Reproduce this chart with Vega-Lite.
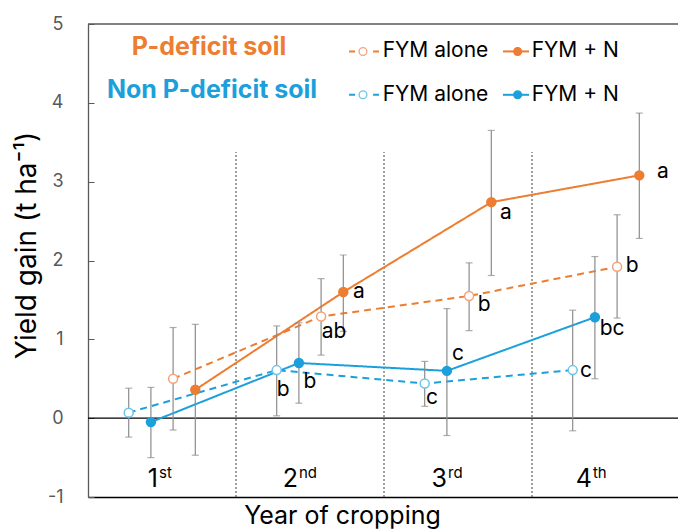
{
  "$schema": "https://vega.github.io/schema/vega-lite/v6.json",
  "width": 592,
  "height": 473,
  "autosize": {"type": "none"},
  "padding": {"left": 88, "top": 24, "right": 0, "bottom": 32},
  "config": {"view": {"stroke": null}, "font": "Inter", "text": {"font": "Inter"}},
  "datasets": {
    "pts": [
      {"series": "P_alone", "x": 1.075, "y": 0.50, "lo": -0.15, "hi": 1.15},
      {"series": "P_alone", "x": 2.075, "y": 1.29, "lo": 0.80, "hi": 1.77},
      {"series": "P_alone", "x": 3.075, "y": 1.55, "lo": 1.11, "hi": 1.97},
      {"series": "P_alone", "x": 4.075, "y": 1.92, "lo": 1.27, "hi": 2.58},
      {"series": "P_N", "x": 1.225, "y": 0.36, "lo": -0.47, "hi": 1.19},
      {"series": "P_N", "x": 2.225, "y": 1.60, "lo": 1.10, "hi": 2.07},
      {"series": "P_N", "x": 3.225, "y": 2.74, "lo": 1.81, "hi": 3.65},
      {"series": "P_N", "x": 4.225, "y": 3.08, "lo": 2.28, "hi": 3.87},
      {"series": "NP_alone", "x": 0.775, "y": 0.07, "lo": -0.24, "hi": 0.38},
      {"series": "NP_alone", "x": 1.775, "y": 0.61, "lo": 0.03, "hi": 1.17},
      {"series": "NP_alone", "x": 2.775, "y": 0.44, "lo": 0.15, "hi": 0.72},
      {"series": "NP_alone", "x": 3.775, "y": 0.61, "lo": -0.16, "hi": 1.37},
      {"series": "NP_N", "x": 0.925, "y": -0.05, "lo": -0.50, "hi": 0.39},
      {"series": "NP_N", "x": 1.925, "y": 0.70, "lo": 0.19, "hi": 1.21},
      {"series": "NP_N", "x": 2.925, "y": 0.60, "lo": -0.22, "hi": 1.39},
      {"series": "NP_N", "x": 3.925, "y": 1.28, "lo": 0.50, "hi": 2.05}
    ],
    "letters": [
      {"x": 2.162, "y": 1.09, "t": "ab"},
      {"x": 2.331, "y": 1.60, "t": "a"},
      {"x": 3.324, "y": 2.60, "t": "a"},
      {"x": 4.385, "y": 3.12, "t": "a"},
      {"x": 3.176, "y": 1.43, "t": "b"},
      {"x": 4.176, "y": 1.93, "t": "b"},
      {"x": 1.818, "y": 0.355, "t": "b"},
      {"x": 2.0, "y": 0.457, "t": "b"},
      {"x": 3.0, "y": 0.812, "t": "c"},
      {"x": 2.824, "y": 0.254, "t": "c"},
      {"x": 4.041, "y": 1.129, "t": "bc"},
      {"x": 3.865, "y": 0.596, "t": "c"}
    ],
    "dividers": [
      {"x": 1.5, "y": -1, "y2": 3.376},
      {"x": 2.5, "y": -1, "y2": 3.376},
      {"x": 3.5, "y": -1, "y2": 3.376}
    ],
    "years": [
      {"x": 0.973, "num": "1", "sup": "st"},
      {"x": 1.919, "num": "2", "sup": "nd"},
      {"x": 2.926, "num": "3", "sup": "rd"},
      {"x": 3.905, "num": "4", "sup": "th"}
    ],
    "leg": [
      {"series": "P_alone", "kind": "alone", "x1": 2.264, "x2": 2.466, "xc": 2.358, "tx": 2.491, "y": 4.652, "label": "FYM alone"},
      {"series": "P_N", "kind": "N", "x1": 3.304, "x2": 3.480, "xc": 3.403, "tx": 3.498, "y": 4.652, "label": "FYM + N"},
      {"series": "NP_alone", "kind": "alone", "x1": 2.264, "x2": 2.466, "xc": 2.358, "tx": 2.491, "y": 4.102, "label": "FYM alone"},
      {"series": "NP_N", "kind": "N", "x1": 3.304, "x2": 3.480, "xc": 3.403, "tx": 3.498, "y": 4.102, "label": "FYM + N"}
    ],
    "heads": [
      {"x": 1.318, "y": 4.607, "t": "P-deficit soil", "series": "P_N"},
      {"x": 1.338, "y": 4.057, "t": "Non P-deficit soil", "series": "NP_N"}
    ]
  },
  "layer": [
    {
      "data": {"name": "dividers"},
      "mark": {"type": "rule", "color": "#404040", "strokeDash": [2, 2], "strokeWidth": 1},
      "encoding": {
        "x": {"field": "x", "type": "quantitative",
              "scale": {"domain": [0.5, 4.5], "nice": false, "zero": false},
              "axis": {"title": "Year of cropping", "labels": false, "ticks": false, "grid": false,
                       "domainColor": "#000000", "domainWidth": 1.3,
                       "titleFontSize": 25, "titleFontWeight": "normal", "titleColor": "#000000",
                       "titleX": 254, "titleY": 26, "titleAlign": "center", "titleBaseline": "alphabetic"}},
        "y": {"field": "y", "type": "quantitative",
              "scale": {"domain": [-1, 5], "nice": false, "zero": false},
              "axis": {"title": "Yield gain (t ha⁻¹)", "values": [-1, 0, 1, 2, 3, 4, 5], "grid": false,
                       "labelExpr": "'' + datum.value",
                       "domainColor": "#595959", "domainWidth": 1.3, "tickColor": "#595959", "tickSize": -6,
                       "labelPadding": 31, "labelFontSize": 18, "labelColor": "#595959",
                       "titleFontSize": 28, "titleFontWeight": "normal", "titleColor": "#000000",
                       "titleX": -53, "titleY": 221, "titleAngle": -90, "titleAlign": "center", "titleBaseline": "alphabetic"}},
        "y2": {"field": "y2"}
      }
    },
    {
      "data": {"values": [{"v": 0}]},
      "mark": {"type": "rule", "color": "#000000", "strokeWidth": 1.2},
      "encoding": {"y": {"field": "v", "type": "quantitative"}}
    },
    {
      "data": {"values": [{"v": 5}]},
      "mark": {"type": "rule", "color": "#595959", "strokeWidth": 1.3},
      "encoding": {"y": {"field": "v", "type": "quantitative"}}
    },
    {
      "data": {"name": "pts"},
      "mark": {"type": "line", "strokeWidth": 2},
      "encoding": {
        "x": {"field": "x", "type": "quantitative"},
        "y": {"field": "y", "type": "quantitative"},
        "detail": {"field": "series"},
        "color": {"field": "series", "type": "nominal", "legend": null,
                  "scale": {"domain": ["P_alone", "P_N", "NP_alone", "NP_N"], "range": ["#ED7D31", "#ED7D31", "#1CA0DC", "#1CA0DC"]}},
        "strokeDash": {"field": "series", "type": "nominal", "legend": null,
                       "scale": {"domain": ["P_alone", "P_N", "NP_alone", "NP_N"], "range": [[7, 5], [1, 0], [7, 5], [1, 0]]}}
      }
    },
    {
      "data": {"name": "pts"},
      "mark": {"type": "rule", "color": "#8C8C8C", "strokeWidth": 1.2},
      "encoding": {
        "x": {"field": "x", "type": "quantitative"},
        "y": {"field": "lo", "type": "quantitative"},
        "y2": {"field": "hi"}
      }
    },
    {
      "data": {"name": "pts"},
      "mark": {"type": "tick", "orient": "horizontal", "color": "#8C8C8C", "size": 7, "thickness": 1.2},
      "encoding": {
        "x": {"field": "x", "type": "quantitative"},
        "y": {"field": "lo", "type": "quantitative"}
      }
    },
    {
      "data": {"name": "pts"},
      "mark": {"type": "tick", "orient": "horizontal", "color": "#8C8C8C", "size": 7, "thickness": 1.2},
      "encoding": {
        "x": {"field": "x", "type": "quantitative"},
        "y": {"field": "hi", "type": "quantitative"}
      }
    },
    {
      "data": {"name": "pts"},
      "mark": {"type": "point", "filled": false, "size": 80, "strokeWidth": 1.5, "opacity": 1},
      "encoding": {
        "x": {"field": "x", "type": "quantitative"},
        "y": {"field": "y", "type": "quantitative"},
        "fill": {"field": "series", "type": "nominal", "legend": null,
                 "scale": {"domain": ["P_alone", "P_N", "NP_alone", "NP_N"], "range": ["#FFFFFF", "#ED7D31", "#FFFFFF", "#1CA0DC"]}},
        "stroke": {"field": "series", "type": "nominal", "legend": null,
                   "scale": {"domain": ["P_alone", "P_N", "NP_alone", "NP_N"], "range": ["#F4A27A", "#ED7D31", "#6CC4EA", "#1CA0DC"]}}
      }
    },
    {
      "data": {"name": "letters"},
      "mark": {"type": "text", "fontSize": 21, "color": "#000000", "align": "center", "baseline": "middle"},
      "encoding": {
        "x": {"field": "x", "type": "quantitative"},
        "y": {"field": "y", "type": "quantitative"},
        "text": {"field": "t"}
      }
    },
    {
      "data": {"name": "leg"},
      "transform": [{"filter": "datum.kind === 'alone'"}],
      "mark": {"type": "rule", "strokeWidth": 2, "strokeDash": [6, 18]},
      "encoding": {
        "x": {"field": "x1", "type": "quantitative"},
        "x2": {"field": "x2"},
        "y": {"field": "y", "type": "quantitative"},
        "color": {"field": "series", "type": "nominal", "legend": null}
      }
    },
    {
      "data": {"name": "leg"},
      "transform": [{"filter": "datum.kind === 'N'"}],
      "mark": {"type": "rule", "strokeWidth": 2},
      "encoding": {
        "x": {"field": "x1", "type": "quantitative"},
        "x2": {"field": "x2"},
        "y": {"field": "y", "type": "quantitative"},
        "color": {"field": "series", "type": "nominal", "legend": null}
      }
    },
    {
      "data": {"name": "leg"},
      "mark": {"type": "point", "filled": false, "size": 60, "strokeWidth": 1.3, "opacity": 1},
      "encoding": {
        "x": {"field": "xc", "type": "quantitative"},
        "y": {"field": "y", "type": "quantitative"},
        "fill": {"field": "series", "type": "nominal", "legend": null},
        "stroke": {"field": "series", "type": "nominal", "legend": null}
      }
    },
    {
      "data": {"name": "leg"},
      "mark": {"type": "text", "fontSize": 21, "color": "#000000", "align": "left", "baseline": "middle"},
      "encoding": {
        "x": {"field": "tx", "type": "quantitative"},
        "y": {"field": "y", "type": "quantitative"},
        "text": {"field": "label"}
      }
    },
    {
      "data": {"name": "heads"},
      "mark": {"type": "text", "fontSize": 25, "fontWeight": "bold", "align": "center", "baseline": "alphabetic"},
      "encoding": {
        "x": {"field": "x", "type": "quantitative"},
        "y": {"field": "y", "type": "quantitative"},
        "text": {"field": "t"},
        "color": {"field": "series", "type": "nominal", "legend": null}
      }
    },
    {
      "data": {"name": "years"},
      "mark": {"type": "text", "fontSize": 25, "color": "#000000", "align": "right", "baseline": "alphabetic"},
      "encoding": {
        "x": {"field": "x", "type": "quantitative"},
        "y": {"datum": -0.872, "type": "quantitative"},
        "text": {"field": "num"}
      }
    },
    {
      "data": {"name": "years"},
      "mark": {"type": "text", "fontSize": 15, "color": "#000000", "align": "left", "baseline": "alphabetic", "dx": 1},
      "encoding": {
        "x": {"field": "x", "type": "quantitative"},
        "y": {"datum": -0.761, "type": "quantitative"},
        "text": {"field": "sup"}
      }
    }
  ]
}
